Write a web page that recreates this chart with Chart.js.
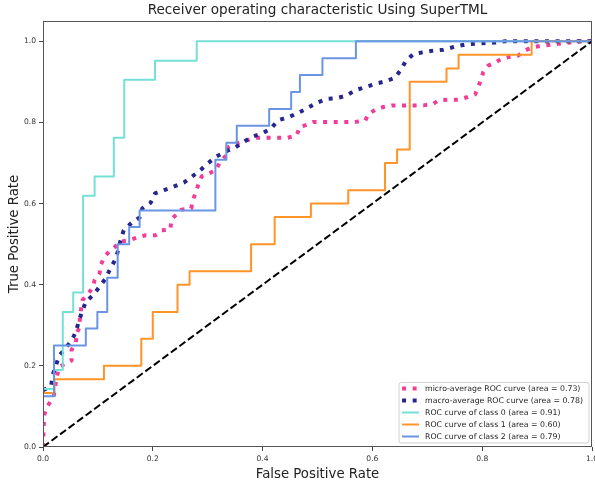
<!DOCTYPE html>
<html>
<head>
<meta charset="utf-8">
<script src="https://cdn.jsdelivr.net/npm/chart.js@4.4.1/dist/chart.umd.min.js"></script>
<style>
  html, body { margin: 0; padding: 0; background: #fff; }
</style>
</head>
<body>
<canvas id="roc" width="595" height="483"></canvas>
<script>
// ROC points
var class0Fpr = [0, 0, 0.02, 0.02, 0.036, 0.036, 0.055, 0.055, 0.073, 0.073, 0.094, 0.094, 0.129, 0.129, 0.148, 0.148, 0.204, 0.204, 0.28, 0.28, 1.0];
var class0Tpr = [0, 0.143, 0.143, 0.19, 0.19, 0.333, 0.333, 0.381, 0.381, 0.619, 0.619, 0.667, 0.667, 0.762, 0.762, 0.905, 0.905, 0.952, 0.952, 1.0, 1.0];

var class1Fpr = [0, 0, 0.021, 0.021, 0.111, 0.111, 0.179, 0.179, 0.2, 0.2, 0.245, 0.245, 0.267, 0.267, 0.379, 0.379, 0.422, 0.422, 0.488, 0.488, 0.556, 0.556, 0.623, 0.623, 0.645, 0.645, 0.668, 0.668, 0.735, 0.735, 0.757, 0.757, 0.89, 0.89, 1.0];
var class1Tpr = [0, 0.133, 0.133, 0.167, 0.167, 0.2, 0.2, 0.267, 0.267, 0.333, 0.333, 0.4, 0.4, 0.433, 0.433, 0.5, 0.5, 0.567, 0.567, 0.6, 0.6, 0.633, 0.633, 0.7, 0.7, 0.733, 0.733, 0.9, 0.9, 0.933, 0.933, 0.967, 0.967, 1.0, 1.0];

var class2Fpr = [0, 0, 0.02, 0.02, 0.078, 0.078, 0.099, 0.099, 0.117, 0.117, 0.136, 0.136, 0.157, 0.157, 0.176, 0.176, 0.314, 0.314, 0.334, 0.334, 0.353, 0.353, 0.412, 0.412, 0.452, 0.452, 0.468, 0.468, 0.509, 0.509, 0.57, 0.57, 1.0];
var class2Tpr = [0, 0.125, 0.125, 0.25, 0.25, 0.292, 0.292, 0.333, 0.333, 0.417, 0.417, 0.5, 0.5, 0.542, 0.542, 0.583, 0.583, 0.708, 0.708, 0.75, 0.75, 0.792, 0.792, 0.833, 0.833, 0.875, 0.875, 0.917, 0.917, 0.958, 0.958, 1.0, 1.0];

var microFpr = [0, 0.002, 0.006, 0.014, 0.02, 0.025, 0.03, 0.052, 0.052, 0.06, 0.061, 0.067, 0.067, 0.072, 0.09, 0.094, 0.103, 0.105, 0.112, 0.12, 0.131, 0.14, 0.158, 0.171, 0.187, 0.205, 0.216, 0.232, 0.234, 0.252, 0.27, 0.273, 0.282, 0.289, 0.315, 0.322, 0.334, 0.336, 0.352, 0.374, 0.389, 0.445, 0.462, 0.468, 0.483, 0.492, 0.568, 0.587, 0.593, 0.605, 0.62, 0.635, 0.693, 0.711, 0.72, 0.738, 0.757, 0.772, 0.787, 0.792, 0.796, 0.802, 0.811, 0.824, 0.836, 0.851, 0.866, 0.878, 0.89, 0.909, 0.945, 0.982, 1.0];
var microTpr = [0, 0.077, 0.097, 0.112, 0.128, 0.173, 0.198, 0.213, 0.239, 0.256, 0.28, 0.296, 0.321, 0.362, 0.391, 0.411, 0.428, 0.448, 0.469, 0.481, 0.493, 0.506, 0.51, 0.516, 0.522, 0.522, 0.534, 0.536, 0.561, 0.585, 0.588, 0.608, 0.643, 0.667, 0.682, 0.702, 0.719, 0.738, 0.748, 0.757, 0.762, 0.762, 0.768, 0.789, 0.795, 0.801, 0.801, 0.805, 0.821, 0.831, 0.838, 0.842, 0.842, 0.846, 0.854, 0.856, 0.856, 0.862, 0.869, 0.883, 0.899, 0.924, 0.94, 0.948, 0.957, 0.962, 0.965, 0.977, 0.985, 0.989, 0.995, 1.0, 1.0];

var macroFpr = [0, 0.015, 0.017, 0.023, 0.029, 0.052, 0.06, 0.065, 0.071, 0.078, 0.091, 0.103, 0.114, 0.122, 0.131, 0.137, 0.141, 0.147, 0.161, 0.176, 0.181, 0.196, 0.204, 0.222, 0.24, 0.257, 0.272, 0.288, 0.301, 0.316, 0.334, 0.351, 0.368, 0.384, 0.401, 0.416, 0.428, 0.447, 0.464, 0.48, 0.498, 0.517, 0.535, 0.553, 0.568, 0.587, 0.605, 0.623, 0.641, 0.652, 0.661, 0.675, 0.693, 0.711, 0.729, 0.751, 0.769, 0.787, 0.824, 0.842, 1.0];
var macroTpr = [0.14, 0.15, 0.175, 0.198, 0.224, 0.262, 0.284, 0.309, 0.333, 0.358, 0.374, 0.395, 0.415, 0.438, 0.46, 0.485, 0.508, 0.534, 0.552, 0.566, 0.588, 0.602, 0.625, 0.634, 0.643, 0.652, 0.667, 0.684, 0.7, 0.716, 0.729, 0.739, 0.754, 0.766, 0.774, 0.786, 0.805, 0.813, 0.823, 0.834, 0.848, 0.858, 0.86, 0.866, 0.879, 0.887, 0.895, 0.901, 0.91, 0.93, 0.952, 0.969, 0.973, 0.977, 0.979, 0.987, 0.992, 0.994, 0.997, 1.0, 1.0];

var chanceFpr = [0, 1];
var chanceTpr = [0, 1];

var curveLabels = [
    'micro-average ROC curve (area = 0.73)',
    'macro-average ROC curve (area = 0.78)',
    'ROC curve of class 0 (area = 0.91)',
    'ROC curve of class 1 (area = 0.60)',
    'ROC curve of class 2 (area = 0.79)'
];

var FONT = '"DejaVu Sans", "Liberation Sans", sans-serif';

function toPoints(xs, ys) {
    return xs.map(function (x, i) { return {x: x, y: ys[i]}; });
}

function curve(label, xs, ys, color, width, dash, order) {
    return {
        label: label,
        data: toPoints(xs, ys),
        showLine: true,
        borderColor: color,
        backgroundColor: color,
        borderWidth: width,
        borderDash: dash,
        borderCapStyle: 'butt',
        borderJoinStyle: 'round',
        pointRadius: 0,
        pointHoverRadius: 0,
        tension: 0,
        order: order
    };
}

// title, axis labels, box round the axes and the legend
var decorations = {
    id: 'decorations',
    afterDraw: function (chart) {
        var ctx = chart.ctx, a = chart.chartArea;
        ctx.save();

        ctx.strokeStyle = '#555';
        ctx.lineWidth = 1;
        ctx.strokeRect(a.left + 0.5, a.top + 0.5, a.right - a.left - 1, a.bottom - a.top - 1);

        ctx.fillStyle = '#222';
        ctx.textAlign = 'center';
        ctx.textBaseline = 'alphabetic';
        ctx.font = '13.6px ' + FONT;
        ctx.fillText('Receiver operating characteristic Using SuperTML', (a.left + a.right) / 2, 14);

        ctx.font = '13.3px ' + FONT;
        ctx.fillText('False Positive Rate', (a.left + a.right) / 2, 477.5);

        ctx.save();
        ctx.translate(18, (a.top + a.bottom) / 2);
        ctx.rotate(-Math.PI / 2);
        ctx.fillText('True Positive Rate', 0, 0);
        ctx.restore();

        // legend, lower right
        var sets = chart.data.datasets.filter(function (d) { return d.inLegend; });
        ctx.font = '7.8px ' + FONT;
        var textW = 0;
        sets.forEach(function (d) { textW = Math.max(textW, ctx.measureText(d.label).width); });
        var rowH = 12;
        var boxW = 26 + textW + 6;
        var boxH = rowH * sets.length + 0.5;
        var bx = a.right - 3 - boxW;
        var by = a.bottom - 4 - boxH;

        ctx.beginPath();
        ctx.roundRect(bx, by, boxW, boxH, 2);
        ctx.fillStyle = 'rgba(255,255,255,0.8)';
        ctx.fill();
        ctx.strokeStyle = '#d0d0d0';
        ctx.stroke();

        sets.forEach(function (d, i) {
            var cy = by + 6 + i * rowH;
            ctx.save();
            ctx.strokeStyle = d.borderColor;
            ctx.lineWidth = d.borderWidth;
            ctx.setLineDash(d.borderDash || []);
            ctx.lineCap = 'butt';
            ctx.beginPath();
            ctx.moveTo(bx + 3, cy);
            ctx.lineTo(bx + 20, cy);
            ctx.stroke();
            ctx.restore();

            ctx.fillStyle = '#222';
            ctx.textAlign = 'left';
            ctx.textBaseline = 'middle';
            ctx.fillText(d.label, bx + 26, cy + 0.5);
        });

        ctx.restore();
    }
};

var datasets = [
    curve('chance', chanceFpr, chanceTpr, '#000000', 2, [7.4, 3.2], 0),
    curve(curveLabels[4], class2Fpr, class2Tpr, '#6a95e2', 2, [], 1),
    curve(curveLabels[3], class1Fpr, class1Tpr, '#ff9428', 2, [], 2),
    curve(curveLabels[2], class0Fpr, class0Tpr, '#74e0d6', 2, [], 3),
    curve(curveLabels[1], macroFpr, macroTpr, '#26268c', 4, [4, 6.6], 4),
    curve(curveLabels[0], microFpr, microTpr, '#f23d98', 4, [4, 6.6], 5)
];
// legend shows the curves in the order they were plotted
datasets.forEach(function (d) { d.inLegend = d.label !== 'chance'; });
datasets.reverse();

var tickStyle = {
    color: '#333',
    font: {family: FONT, size: 7.6},
    padding: 3,
    stepSize: 0.2,
    includeBounds: false,
    callback: function (v) { return v.toFixed(1); }
};
var gridStyle = {
    display: true,
    drawOnChartArea: false,
    drawTicks: true,
    tickLength: 4,
    tickColor: '#444',
    tickWidth: 1
};

new Chart(document.getElementById('roc').getContext('2d'), {
    type: 'scatter',
    data: {datasets: datasets},
    options: {
        responsive: false,
        animation: false,
        layout: {padding: {top: 21, right: 3, left: 0, bottom: 0}},
        plugins: {
            legend: {display: false},
            title: {display: false},
            tooltip: {enabled: false}
        },
        scales: {
            x: {
                type: 'linear',
                min: 0,
                max: 1,
                ticks: tickStyle,
                grid: gridStyle,
                border: {display: false},
                afterFit: function (s) { s.height = 36; s.paddingLeft = 0; s.paddingRight = 0; }
            },
            y: {
                type: 'linear',
                min: 0,
                max: 1.05,
                ticks: tickStyle,
                grid: gridStyle,
                border: {display: false},
                afterFit: function (s) { s.width = 43; s.paddingTop = 0; s.paddingBottom = 0; }
            }
        }
    },
    plugins: [decorations]
});
</script>
</body>
</html>
